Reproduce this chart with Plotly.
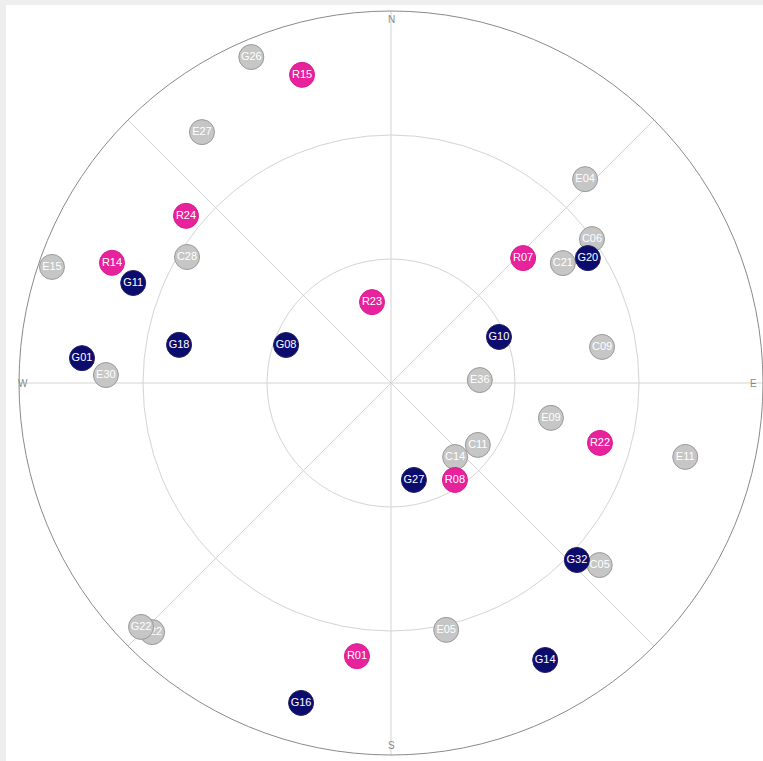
import plotly.graph_objects as go

# Satellite labels, azimuth (deg, clockwise from North), elevation (deg)
sats = ["G26", "E27", "E04", "C06", "E15", "C28", "E30", "C21", "C09", "E36",
        "E09", "E11", "C11", "C14", "C05", "E05", "C22", "G22",
        "R15", "R24", "R14", "R23", "R07", "R22", "R08", "R01",
        "G11", "G18", "G08", "G01", "G20", "G10", "G27", "G32", "G14", "G16"]
azimuth = [336.8, 323.0, 43.6, 54.4, 288.9, 301.7, 271.6, 55.1, 80.3, 88.1,
           102.3, 104.1, 125.5, 139.1, 131.1, 167.4, 223.8, 225.7,
           343.9, 309.2, 293.3, 346.8, 46.6, 106.0, 146.6, 187.1,
           291.2, 280.2, 289.9, 274.6, 57.6, 66.9, 166.7, 133.6, 150.9, 195.7]
elevation = [4.2, 14.0, 21.9, 30.2, 3.3, 32.0, 21.0, 39.3, 38.2, 68.5,
             50.4, 16.6, 64.2, 66.3, 23.0, 28.8, 6.5, 5.5,
             12.4, 26.0, 16.5, 69.9, 46.0, 37.4, 61.9, 23.4,
             23.1, 37.9, 63.0, 15.0, 33.6, 61.6, 65.9, 27.9, 13.3, 9.6]
systems = ["GPS-off", "GAL", "GAL", "BDS", "GAL", "BDS", "GAL", "BDS", "BDS", "GAL",
           "GAL", "GAL", "BDS", "BDS", "BDS", "GAL", "BDS", "GPS-off",
           "GLO", "GLO", "GLO", "GLO", "GLO", "GLO", "GLO", "GLO",
           "GPS", "GPS", "GPS", "GPS", "GPS", "GPS", "GPS", "GPS", "GPS", "GPS"]

fill = {"GPS": "#0c0c6e", "GLO": "#e8229c", "GAL": "#c6c6c6", "BDS": "#c6c6c6", "GPS-off": "#c6c6c6"}
edge = {"GPS": "#202060", "GLO": "#d81e90", "GAL": "#9a9a9a", "BDS": "#9a9a9a", "GPS-off": "#9a9a9a"}

fig = go.Figure()
for name, az, el, sysn in zip(sats, azimuth, elevation, systems):
    fig.add_trace(go.Scatterpolar(
        r=[90 - el], theta=[az], mode="markers+text", text=[name],
        textposition="middle center",
        textfont=dict(family="Liberation Sans, Arial, sans-serif", size=11, color="white"),
        marker=dict(size=25, color=fill[sysn], line=dict(color=edge[sysn], width=1)),
        showlegend=False, hoverinfo="text", cliponaxis=False,
    ))

W, H = 763, 761
cx, cy, R = 391, 383, 372
fig.update_layout(
    width=W, height=H,
    margin=dict(l=0, r=0, t=0, b=0),
    paper_bgcolor="white",
    polar=dict(
        domain=dict(x=[(cx - R) / W, min(1.0, (cx + R) / W)],
                    y=[(H - cy - R) / H, (H - cy + R) / H]),
        bgcolor="white",
        angularaxis=dict(rotation=90, direction="clockwise", dtick=45,
                         showticklabels=False, ticks="",
                         linecolor="#8a8a8a", linewidth=1,
                         gridcolor="#d4d4d4", gridwidth=1),
        radialaxis=dict(range=[0, 90], tickvals=[30, 60], showticklabels=False,
                        ticks="", showline=False,
                        gridcolor="#d4d4d4", gridwidth=1),
    ),
    shapes=[
        dict(type="rect", xref="paper", yref="paper", x0=0, x1=6 / W, y0=0, y1=1,
             fillcolor="#eeeeee", line=dict(width=0), layer="below"),
        dict(type="rect", xref="paper", yref="paper", x0=0, x1=1, y0=1 - 5 / H, y1=1,
             fillcolor="#eeeeee", line=dict(width=0), layer="below"),
    ],
    annotations=[
        dict(text="N", x=cx / W, y=1 - 12 / H, xref="paper", yref="paper", showarrow=False,
             font=dict(size=10, color="#888888", family="Liberation Sans, Arial")),
        dict(text="S", x=cx / W, y=1 - 753 / H, xref="paper", yref="paper", showarrow=False,
             font=dict(size=10, color="#888888", family="Liberation Sans, Arial")),
        dict(text="W", x=16 / W, y=1 - 384 / H, xref="paper", yref="paper", showarrow=False,
             font=dict(size=10, color="#888888", family="Liberation Sans, Arial")),
        dict(text="E", x=759 / W, y=1 - 384 / H, xref="paper", yref="paper", showarrow=False,
             font=dict(size=10, color="#888888", family="Liberation Sans, Arial")),
    ],
)

fig.write_html("out.html", config={"displayModeBar": False},
               post_script="document.body.style.margin='0';document.body.style.overflow='hidden';")
